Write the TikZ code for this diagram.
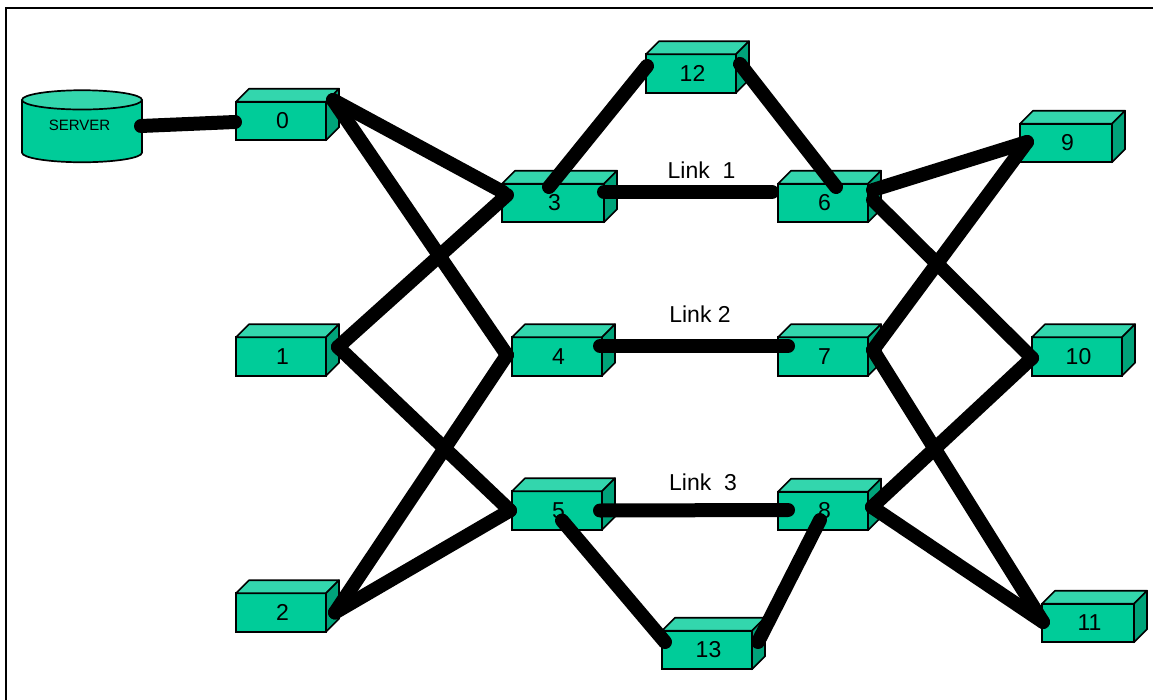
\documentclass[tikz,border=0pt]{standalone}
\usepackage{fontspec}
\setmainfont{Liberation Sans}
\usetikzlibrary{shapes.geometric}
\definecolor{boxfront}{HTML}{00CC99}
\definecolor{boxtop}{HTML}{33D6AD}
\definecolor{boxside}{HTML}{00A37A}
\tikzset{
  hostbox/.style={draw,line width=1.7pt,fill=boxfront,rectangle,inner sep=0pt,outer sep=0pt,
    minimum height=38.5pt,font=\fontsize{23}{25}\selectfont},
  boxface/.style={draw,line width=1.7pt,line join=round},
  wire/.style={line width=14pt,line cap=round},
  linklabel/.style={font=\fontsize{23}{25}\selectfont,inner sep=0pt}
}
% name, x, y, width, label
\newcommand{\netbox}[5]{
  \node[hostbox,minimum width=#4pt] (#1) at (#2,#3) {\hspace*{3pt}#5};
  \filldraw[boxface,fill=boxtop] (#1.north west)--++(13,-13)--++(#4,0)--++(-13,13)--cycle;
  \filldraw[boxface,fill=boxside] (#1.north east)--++(13,-13)--++(0,38.5)--++(-13,13)--cycle;
}
\begin{document}
\begin{tikzpicture}[x=1pt,y=-1pt]
\useasboundingbox (0,0) rectangle (1153,700);
\draw[line width=2pt] (5.5,700)--(5.5,8)--(1153,8);

\node[cylinder,draw,line width=1.7pt,shape border rotate=90,aspect=0.29,minimum width=120pt,minimum height=72pt,
  inner sep=0pt,outer sep=0pt,cylinder uses custom fill,cylinder body fill=boxfront,cylinder end fill=boxtop,
  font=\fontsize{15}{17}\selectfont] (srv) at (82,131.5) {\raisebox{12pt}{SERVER}\hspace*{5pt}};

\netbox{n0}{281}{121}{90}{0}
\netbox{n1}{281}{356.5}{90}{1}
\netbox{n2}{281}{612.5}{90}{2}
\netbox{n3}{553}{203}{102}{3}
\netbox{n4}{557}{356.5}{90}{4}
\netbox{n5}{557}{510.5}{90}{5}
\netbox{n6}{823}{203}{90}{6}
\netbox{n7}{823}{356.5}{90}{7}
\netbox{n8}{823}{511}{90}{8}
\netbox{n9}{1066}{143}{92}{9}
\netbox{n10}{1077}{356.5}{90}{10}
\netbox{n11}{1088}{623}{92}{11}
\netbox{n12}{691}{73.5}{90}{12}
\netbox{n13}{707}{650}{90}{13}

\node[linklabel] (l1) at (701.5,170) {Link\ \ 1};
\node[linklabel] (l2) at (700,314) {Link 2};
\node[linklabel] (l3) at (703,482) {Link\ \ 3};

\draw[wire] ([shift={(59,-5.5)}]srv.center)--([shift={(-46,1)}]n0.center);
\draw[wire] ([shift={(52,-21)}]n0.center)--([shift={(-50,-11)}]n3.center);
\draw[wire] ([shift={(52,-21)}]n0.center)--([shift={(-50,-1.5)}]n4.center);
\draw[wire] ([shift={(57,-9.5)}]n1.center)--([shift={(-46,-8)}]n3.center);
\draw[wire] ([shift={(57,-9.5)}]n1.center)--([shift={(-47,0)}]n5.center);
\draw[wire] ([shift={(54,0)}]n2.center)--([shift={(-50,-1.5)}]n4.center);
\draw[wire] ([shift={(54,0)}]n2.center)--([shift={(-47,0)}]n5.center);

\draw[wire] ([shift={(-4,-16)}]n3.center)--([shift={(-44,-7.5)}]n12.center);
\draw[wire] ([shift={(49,-9.5)}]n12.center)--([shift={(13,-16)}]n6.center);
\draw[wire] ([shift={(51,-11)}]n3.center)--([shift={(-51,-11)}]n6.center);
\draw[wire] ([shift={(43,-10.5)}]n4.center)--([shift={(-35,-10.5)}]n7.center);
\draw[wire] ([shift={(43,0)}]n5.center)--([shift={(-35,-1)}]n8.center);
\draw[wire] ([shift={(5,10)}]n5.center)--([shift={(-42,-8)}]n13.center);
\draw[wire] ([shift={(51,-8)}]n13.center)--([shift={(-3,9)}]n8.center);

\draw[wire] ([shift={(50,-13)}]n6.center)--([shift={(-39,-1)}]n9.center);
\draw[wire] ([shift={(50,-3)}]n6.center)--([shift={(-45,1.5)}]n10.center);
\draw[wire] ([shift={(50,-6.5)}]n7.center)--([shift={(-39,-1)}]n9.center);
\draw[wire] ([shift={(50,-6.5)}]n7.center)--([shift={(-45,-1)}]n11.center);
\draw[wire] ([shift={(49,-4)}]n8.center)--([shift={(-45,1.5)}]n10.center);
\draw[wire] ([shift={(49,-4)}]n8.center)--([shift={(-45,-1)}]n11.center);
\end{tikzpicture}
\end{document}
